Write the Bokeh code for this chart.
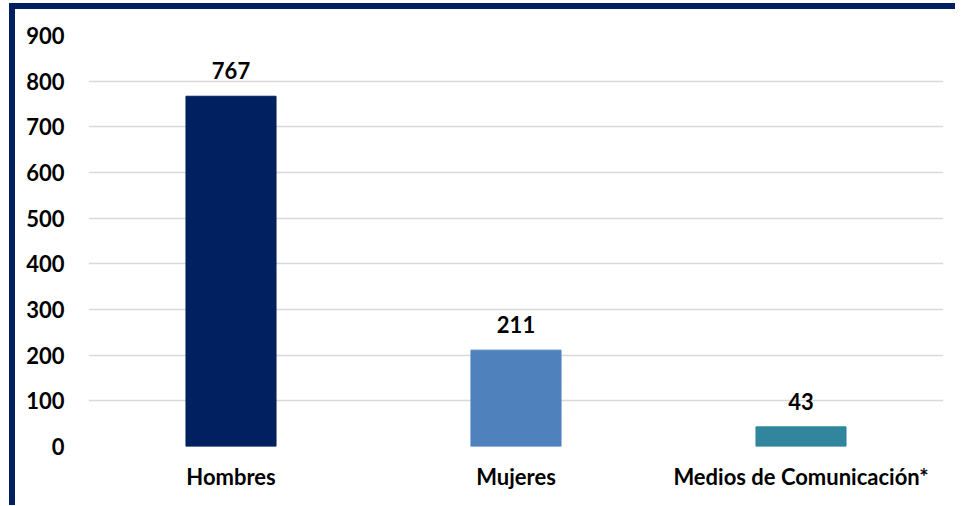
from bokeh.plotting import figure
from bokeh.models import ColumnDataSource, FactorRange, Range1d, LabelSet, FixedTicker
from bokeh.core.properties import value
from bokeh.embed import file_html
from bokeh.resources import INLINE

categories = ["Hombres", "Mujeres", "Medios de Comunicación*"]
values = [767, 211, 43]
colors = ["#002060", "#4f81bd", "#31859c"]
labels = ["767", "211", "43"]
y_ticks = [0, 100, 200, 300, 400, 500, 600, 700, 800, 900]

FONT = "Lato"
FS = "22px"

src = ColumnDataSource(dict(cat=categories, val=values, color=colors, lab=labels))

p = figure(x_range=FactorRange(*categories), y_range=Range1d(0, 900),
           width=946, height=502, output_backend="svg", toolbar_location=None,
           min_border_left=73, min_border_right=18, min_border_top=26, min_border_bottom=65)
p.styles = {"margin-left": "9px", "margin-top": "3px",
            "border-left": "6px solid #002060", "border-top": "6px solid #002060"}
p.outline_line_color = None
p.background_fill_color = "white"

p.vbar(x="cat", top="val", width=0.316, color="color", source=src)

p.add_layout(LabelSet(x="cat", y="val", text="lab", source=src, y_offset=17,
                      text_align="center", text_baseline="alphabetic",
                      text_font=value(FONT), text_font_style="bold", text_font_size=FS,
                      text_color="#000000"))

p.xgrid.grid_line_color = None
p.ygrid.grid_line_color = "#d9d9d9"
p.ygrid.grid_line_width = 1.5
p.yaxis.ticker = FixedTicker(ticks=y_ticks)

for ax in (p.xaxis, p.yaxis):
    ax.axis_line_color = None
    ax.major_tick_line_color = None
    ax.minor_tick_line_color = None
    ax.major_label_text_font = FONT
    ax.major_label_text_font_style = "bold"
    ax.major_label_text_font_size = FS
    ax.major_label_text_color = "#000000"

p.yaxis.major_label_standoff = 18
p.xaxis.major_label_standoff = 10

open("out.html", "w").write(file_html(p, INLINE))
